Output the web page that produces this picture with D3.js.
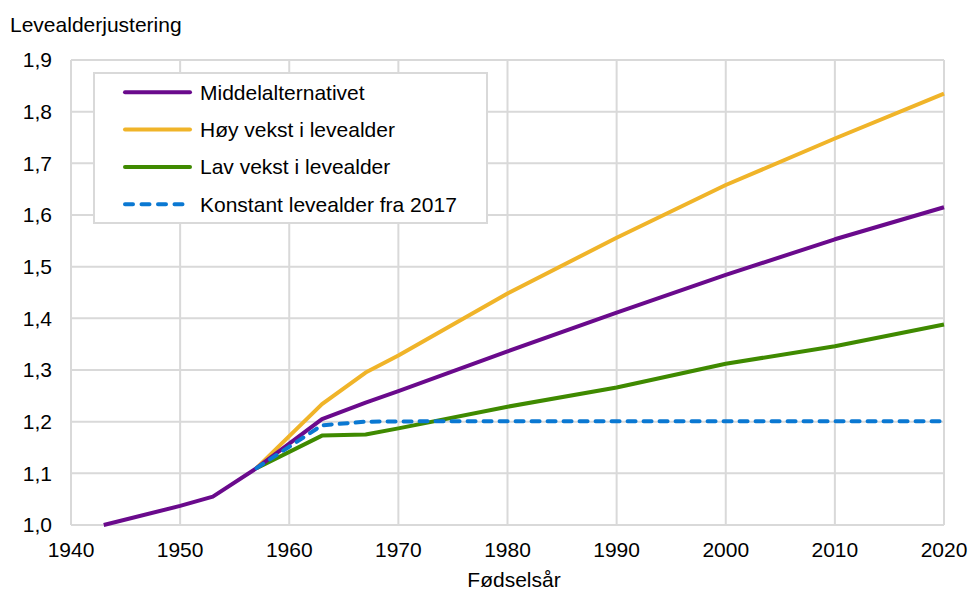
<!DOCTYPE html>
<html><head><meta charset="utf-8">
<script src="https://cdn.jsdelivr.net/npm/d3@7"></script>
<style>body{margin:0;background:#fff}svg{display:block}text{font-family:"Liberation Sans",Arial,sans-serif;fill:#000}</style>
</head><body><svg id="c" width="970" height="590"></svg>
<script>
const seriesNames = ["Middelalternativet","Høy vekst i levealder","Lav vekst i levealder","Konstant levealder fra 2017"];
const middelYears = [1943,1950,1953,1957,1963,1967,1970,1980,1990,2000,2010,2020];
const middelValues = [1.000,1.037,1.055,1.110,1.205,1.237,1.259,1.336,1.411,1.484,1.553,1.615];
const hoyYears = [1957,1963,1967,1970,1980,1990,2000,2010,2020];
const hoyValues = [1.110,1.234,1.295,1.328,1.448,1.556,1.658,1.748,1.835];
const lavYears = [1957,1963,1967,1970,1980,1990,2000,2010,2020];
const lavValues = [1.110,1.173,1.175,1.187,1.229,1.266,1.312,1.346,1.388];
const konstYears = [1957,1963,1967,1975,2020];
const konstValues = [1.110,1.193,1.200,1.201,1.201];
const xTicks = [1940,1950,1960,1970,1980,1990,2000,2010,2020];
const yTicks = [1.0,1.1,1.2,1.3,1.4,1.5,1.6,1.7,1.8,1.9];

const svg = d3.select("#c");
const L=71,R=944,T=60,B=525;
const FS=21;
const x = d3.scaleLinear().domain([1940,2020]).range([L,R]);
const y = d3.scaleLinear().domain([1.0,1.9]).range([B,T]);
const grid="#d9d9d9";
const g = svg.append("g");
g.selectAll(".vg").data(xTicks).join("line").attr("x1",d=>x(d)).attr("x2",d=>x(d)).attr("y1",T).attr("y2",B).attr("stroke",grid).attr("stroke-width",2);
g.selectAll(".hg").data(yTicks).join("line").attr("x1",L).attr("x2",R).attr("y1",d=>y(d)).attr("y2",d=>y(d)).attr("stroke",grid).attr("stroke-width",2);

const fmt = d=>d.toFixed(1).replace(".",",");
svg.selectAll(".yl").data(yTicks).join("text").attr("x",52).attr("y",d=>y(d)).attr("dy","0.35em").attr("text-anchor","end").attr("font-size",FS).text(fmt);
svg.selectAll(".xl").data(xTicks).join("text").attr("x",d=>x(d)).attr("y",550).attr("dy","0.35em").attr("text-anchor","middle").attr("font-size",FS).text(d=>d);
svg.append("text").attr("x",10).attr("y",32).attr("font-size",FS).text("Levealderjustering");
svg.append("text").attr("x",514).attr("y",587).attr("text-anchor","middle").attr("font-size",FS).text("Fødselsår");

const colors=["#6a0a8c","#f0b429","#3f8a00","#0a78d2"];
const data=[[middelYears,middelValues],[hoyYears,hoyValues],[lavYears,lavValues],[konstYears,konstValues]];
const line=d3.line().x(d=>x(d[0])).y(d=>y(d[1]));
const order=[2,1,0,3];
order.forEach(i=>{
  const pts=data[i][0].map((yr,k)=>[yr,data[i][1][k]]);
  const p=svg.append("path").attr("d",line(pts)).attr("fill","none").attr("stroke",colors[i]).attr("stroke-width",4).attr("stroke-linejoin","round").attr("stroke-linecap",i==3?"round":"butt");
  if(i==3) p.attr("stroke-dasharray","8,8");
});

// legend
const lg=svg.append("g");
lg.append("rect").attr("x",94).attr("y",73).attr("width",393).attr("height",150).attr("fill","#fff").attr("stroke",grid).attr("stroke-width",2);
seriesNames.forEach((n,i)=>{
  const yy=92.3+i*37.3;
  const ln=lg.append("line").attr("x1",125).attr("x2",190).attr("y1",yy).attr("y2",yy).attr("stroke",colors[i]).attr("stroke-width",4).attr("stroke-linecap","round");
  if(i==3) ln.attr("stroke-dasharray","8,8.5");
  lg.append("text").attr("x",200).attr("y",yy).attr("dy","0.35em").attr("font-size",FS).text(n);
});
</script></body></html>
